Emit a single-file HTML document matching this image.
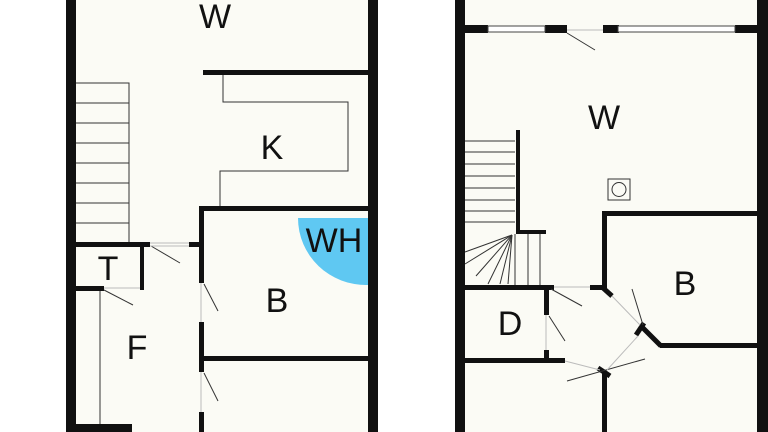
<!DOCTYPE html>
<html><head><style>
html,body{margin:0;padding:0;background:#fff;}
svg{display:block;}
text{font-family:"Liberation Sans",sans-serif;fill:#111;text-anchor:middle;}
</style></head><body>
<svg width="768" height="432" viewBox="0 0 768 432" xmlns="http://www.w3.org/2000/svg">
<rect width="768" height="432" fill="#fff"/>
<rect x="75" y="0" width="294" height="432" fill="#fbfbf5"/>
<rect x="464" y="0" width="294" height="432" fill="#fbfbf5"/>

<g fill="#111">
<rect x="66" y="0" width="10" height="432"/>
<rect x="368" y="0" width="10" height="432"/>
<rect x="203" y="70" width="166" height="5"/>
<rect x="199" y="206" width="170" height="5"/>
<rect x="199" y="206" width="5" height="36"/>
<rect x="199" y="242" width="5" height="41"/>
<rect x="199" y="322" width="5" height="50"/>
<rect x="199" y="412" width="5" height="20"/>
<rect x="203" y="356" width="166" height="5"/>
<rect x="76" y="242" width="74" height="5"/>
<rect x="189" y="242" width="12" height="5"/>
<rect x="140" y="247" width="4" height="43"/>
<rect x="76" y="286" width="28" height="5"/>
<rect x="66" y="424" width="66" height="8"/>

<rect x="455" y="0" width="10" height="432"/>
<rect x="757" y="0" width="11" height="432"/>
<rect x="465" y="25" width="23" height="8"/>
<rect x="545" y="25" width="22" height="8"/>
<rect x="603" y="25" width="16" height="8"/>
<rect x="735" y="25" width="22" height="8"/>
<rect x="516" y="130" width="4" height="104"/>
<rect x="516" y="230" width="30" height="4"/>
<rect x="465" y="285" width="89" height="5"/>
<rect x="590" y="285" width="15" height="5"/>
<rect x="602" y="211" width="5" height="78"/>
<rect x="602" y="211" width="155" height="5"/>
<rect x="660" y="343" width="97" height="5"/>
<rect x="544" y="290" width="5" height="25"/>
<rect x="544" y="350" width="5" height="12"/>
<rect x="465" y="358" width="100" height="5"/>
<rect x="602" y="373" width="5" height="59"/>
</g>
<g stroke="#111" stroke-width="5" fill="none">
<line x1="602" y1="287" x2="612" y2="296"/>
<line x1="641" y1="326" x2="661" y2="346"/>
<line x1="644" y1="323" x2="636" y2="335"/>
<line x1="598" y1="368" x2="610" y2="376"/>
</g>
<g fill="#fff" stroke="#444" stroke-width="1">
<rect x="488" y="26" width="57" height="6"/>
<rect x="618" y="26" width="117" height="6"/>
</g>

<g stroke="#333" stroke-width="1" fill="none">
<polyline points="76,83 129,83 129,242"/>
<line x1="76" y1="103" x2="129" y2="103"/>
<line x1="76" y1="123" x2="129" y2="123"/>
<line x1="76" y1="143" x2="129" y2="143"/>
<line x1="76" y1="163" x2="129" y2="163"/>
<line x1="76" y1="183" x2="129" y2="183"/>
<line x1="76" y1="203" x2="129" y2="203"/>
<line x1="76" y1="223" x2="129" y2="223"/>
<polyline points="223,75 223,102 348,102 348,171 220,171 220,206"/>
<line x1="100" y1="291" x2="100" y2="424"/>
<line x1="151" y1="246" x2="180" y2="263"/>
<line x1="104" y1="290" x2="133" y2="305"/>
<line x1="204" y1="284" x2="218" y2="311"/>
<line x1="204" y1="373" x2="218" y2="401"/>
<line x1="465" y1="141" x2="515" y2="141"/>
<line x1="465" y1="152" x2="515" y2="152"/>
<line x1="465" y1="164" x2="515" y2="164"/>
<line x1="465" y1="176" x2="515" y2="176"/>
<line x1="465" y1="188" x2="515" y2="188"/>
<line x1="465" y1="200" x2="515" y2="200"/>
<line x1="465" y1="211" x2="515" y2="211"/>
<line x1="465" y1="222" x2="515" y2="222"/>
<line x1="515" y1="234" x2="515" y2="285"/>
<line x1="528" y1="234" x2="528" y2="285"/>
<line x1="540" y1="234" x2="540" y2="285"/>
<line x1="512" y1="235" x2="465" y2="252"/>
<line x1="512" y1="235" x2="465" y2="264"/>
<line x1="512" y1="235" x2="476" y2="276"/>
<line x1="512" y1="235" x2="488" y2="284"/>
<line x1="512" y1="235" x2="500" y2="284"/>
<line x1="512" y1="235" x2="508" y2="284"/>
<line x1="567" y1="33" x2="595" y2="50"/>
<line x1="551" y1="289" x2="582" y2="306"/>
<line x1="549" y1="316" x2="565" y2="341"/>
<line x1="643" y1="325" x2="632" y2="289"/>
<line x1="567" y1="381" x2="645" y2="359"/>
<rect x="608" y="179" width="22" height="21"/>
<circle cx="619" cy="189.5" r="7"/>
</g>
<g stroke="#bbb" stroke-width="1" fill="none">
<line x1="150" y1="243" x2="189" y2="243"/>
<line x1="150" y1="246" x2="189" y2="246"/>
<line x1="104" y1="288" x2="140" y2="288"/>
<line x1="201" y1="283" x2="201" y2="322"/>
<line x1="201" y1="372" x2="201" y2="412"/>
<line x1="567" y1="30" x2="603" y2="30"/>
<line x1="554" y1="287" x2="590" y2="287"/>
<line x1="546" y1="315" x2="546" y2="350"/>
<line x1="612" y1="296" x2="640" y2="325"/>
<line x1="638" y1="336" x2="607" y2="370"/>
<line x1="565" y1="361" x2="600" y2="370"/>
</g>
<path d="M298,218 L368,218 L368,285 A68,67 0 0 1 298,218 Z" fill="#5fc8f2"/>

<g font-size="34">
<text x="215" y="28">W</text>
<text x="272" y="159">K</text>
<text x="334" y="252">WH</text>
<text x="108" y="280">T</text>
<text x="277" y="312">B</text>
<text x="137" y="359">F</text>
<text x="604" y="129">W</text>
<text x="685" y="295">B</text>
<text x="510" y="335">D</text>
</g>
</svg>
</body></html>
